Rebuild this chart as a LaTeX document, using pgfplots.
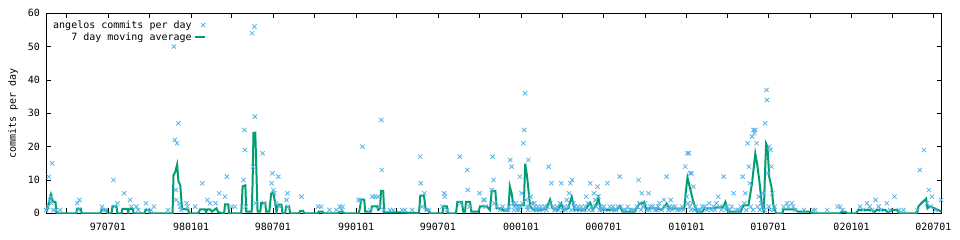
\documentclass[border=0pt]{standalone}
\usepackage{fontspec}
\setmainfont{DejaVu Sans Mono}
\usepackage{pgfplots}
\pgfplotsset{compat=1.18}
\definecolor{cblue}{HTML}{56B4E9}
\definecolor{cgreen}{HTML}{009E73}
\begin{document}
\begin{tikzpicture}
\begin{axis}[
  at={(46pt,26.7pt)}, anchor=south west,
  scale only axis, width=895.5pt, height=200pt,
  xmin=-137, xmax=1844, ymin=0, ymax=60,
  xtick={0,184,365,549,730,914,1096,1280,1461,1645,1826},
  xticklabels={970701,980101,980701,990101,990701,000101,000701,010101,010701,020101,020701},
  minor xtick={-91,92,274,457,639,822,1005,1188,1370,1553,1735},
  ytick={0,10,20,30,40,50,60},
  tick align=inside,
  major tick length=5pt, minor tick length=5pt,
  every tick/.style={black, line width=0.8pt},
  axis line style={line width=0.9pt},
  font=\fontsize{10pt}{12pt}\selectfont,
  /pgf/number format/assume math mode=true,
  yticklabel style={xshift=-2.5pt},
  xticklabel style={yshift=-6.5pt},
  ylabel={commits per day},
  every axis y label/.style={at={(axis description cs:0,0.5)}, xshift=-33pt, rotate=90, anchor=center},
  legend style={at={(0,1)}, anchor=north west, draw=none, fill=none, font=\fontsize{10pt}{12pt}\selectfont, row sep=-1pt, xshift=2pt, yshift=-3pt},
  legend plot pos=right, legend cell align=right,
]
\addplot[only marks, mark=x, mark size=3pt, cblue, line width=0.8pt] coordinates {
(-137,1) (-133,2) (-131,11) (-128,4) (-126,5) (-125,3) (-123,15) (-121,1) (-115,1) (-106,1)
(-68,3) (-65,1) (-63,4) (-13,2) (-10,1) (-5,1) (12,10) (15,2) (21,3) (36,6) (49,4) (52,2)
(63,2) (67,1) (84,3) (88,1) (95,1) (102,2) (133,1) (146,50) (148,22) (150,7) (151,4) (153,21)
(156,27) (158,3) (160,2) (162,1) (174,3) (176,2) (193,2) (209,9) (220,4) (226,3) (238,3)
(246,6) (259,5) (263,11) (274,2) (281,2) (300,10) (302,25) (303,19) (305,2) (319,54) (321,14)
(324,56) (325,29) (327,3) (342,18) (346,3) (362,9) (364,12) (366,7) (368,6) (372,3) (377,11)
(380,2) (395,4) (397,6) (398,2) (428,5) (465,2) (472,2) (490,1) (505,1) (513,2) (517,1)
(519,2) (554,4) (558,4) (563,20) (580,1) (585,5) (591,5) (597,5) (600,2) (605,28) (606,13)
(610,1) (624,1) (631,1) (651,1) (657,1) (673,1) (691,17) (692,9) (695,2) (700,6) (705,1)
(710,1) (740,2) (744,6) (745,5) (750,1) (778,17) (780,3) (795,13) (796,7) (800,2) (822,6)
(831,4) (833,4) (835,2) (849,7) (851,17) (853,10) (855,3) (860,2) (867,1) (873,2) (880,1)
(890,16) (893,14) (896,3) (900,2) (905,1) (911,11) (915,6) (919,21) (921,25) (923,36) (925,4)
(927,2) (930,16) (935,5) (938,3) (945,2) (950,1) (975,14) (978,3) (981,9) (985,2) (990,1)
(1003,9) (1010,2) (1015,4) (1020,6) (1023,9) (1027,10) (1030,3) (1040,2) (1050,1) (1058,5)
(1062,3) (1067,9) (1075,6) (1078,4) (1083,8) (1085,5) (1090,2) (1105,9) (1110,2) (1120,1)
(1128,2) (1132,11) (1140,1) (1150,2) (1160,1) (1174,10) (1176,3) (1181,6) (1188,3) (1196,6)
(1200,2) (1210,1) (1220,3) (1230,4) (1236,11) (1245,4) (1250,2) (1260,1) (1277,14) (1280,5)
(1282,18) (1283,3) (1285,18) (1288,12) (1291,12) (1295,8) (1300,2) (1305,1) (1320,2) (1330,3)
(1340,2) (1350,5) (1362,11) (1370,2) (1384,6) (1390,1) (1404,11) (1408,3) (1410,6) (1415,21)
(1418,14) (1420,9) (1425,23) (1428,25) (1430,24) (1432,25) (1435,21) (1440,5) (1445,3) (1450,6)
(1454,27) (1457,37) (1458,34) (1460,12) (1463,20) (1466,19) (1468,14) (1470,6) (1475,2)
(1495,2) (1502,3) (1505,2) (1513,3) (1516,2) (1520,1) (1540,1) (1560,1) (1565,1) (1591,1)
(1614,2) (1620,2) (1625,1) (1664,2) (1670,1) (1679,3) (1685,2) (1690,1) (1698,4) (1705,2)
(1710,1) (1723,3) (1730,1) (1740,5) (1750,1) (1760,1) (1790,1) (1796,13) (1805,19) (1812,3)
(1816,7) (1820,2) (1823,5) (1830,1) (1843,4)
(884,1) (887,2) (898,1) (902,3) (907,2) (909,1) (913,2) (917,3) (929,1) (932,2) (940,1) (943,3)
(947,1) (952,2) (955,1) (958,2) (962,1) (966,2) (970,1) (973,2) (988,1) (993,2) (997,1) (1000,3)
(1006,1) (1012,1) (1018,2) (1025,1) (1033,2) (1036,1) (1044,1) (1047,2) (1053,1) (1056,2)
(1064,1) (1070,2) (1072,1) (1080,2) (1088,1) (1093,1) (1097,2) (1100,1) (1114,1) (1117,2)
(1124,1) (1135,2) (1145,1) (1155,1) (1165,1) (1170,2) (1179,1) (1184,2) (1192,1) (1198,1)
(1205,2) (1214,1) (1217,2) (1225,1) (1233,2) (1240,1) (1243,2) (1248,1) (1255,2) (1265,1)
(1270,2) (1273,1) (1287,2) (1290,1) (1293,3) (1297,1) (1310,1) (1315,2) (1325,1) (1335,1)
(1343,1) (1346,3) (1353,2) (1357,1) (1365,2) (1367,1) (1375,1) (1380,2) (1395,1) (1400,2)
(1412,1) (1422,2) (1427,1) (1437,2) (1442,1) (1448,2) (1452,1) (1462,2) (1465,1) (1472,1)
};
\addlegendentry{angelos commits per day}
\addplot[cgreen, line width=2pt, legend image code/.code={\draw[cgreen, line width=2pt] (0pt,0pt) -- (10pt,0pt);}] coordinates {
(-137,0.5) (-134,1) (-132,2.4) (-129,4) (-126,5.6) (-123,4) (-120,3.4) (-116,3.4) (-114,0)
(-70,0) (-68,1.4) (-60,1.4) (-58,0) (-16,0) (-14,1) (-3,1) (-1,0) (8,0) (10,2.1) (19,2.1) (21,0)
(30,0) (32,1.3) (43,1.3) (45,0) (46,1.3) (55,1.3) (57,0) (81,0) (83,1) (91,1) (93,0)
(143,0) (145,11.4) (149,12.4) (153,14.6) (156,9.6) (160,8.4) (164,1.4) (177,1.1) (180,0)
(200,0) (204,1.2) (215,1.2) (217,0.3) (220,1.2) (226,1.2) (230,0.5) (240,1.5) (244,0.3)
(257,0) (259,2.7) (266,2.7) (268,0) (295,0) (298,8.1) (304,8.4) (306,0.5) (318,0.5) (320,9)
(322,24.1) (326,24.2) (329,9.9) (331,0.5) (337,0.5) (339,3.1) (348,3.1) (350,0.5) (357,0.5)
(361,5.9) (366,6.2) (370,3) (373,0.3) (376,2.6) (384,2.6) (386,0) (392,0) (394,1.9) (401,1.9)
(403,0) (423,0) (425,0.7) (432,0.7) (434,0) (465,0) (466,0.5) (475,0.5) (476,0) (510,0)
(512,0.5) (520,0.5) (522,0) (555,0) (558,2) (560,4.1) (567,4.1) (569,0.5) (582,0.5) (584,2.1)
(595,2.1) (598,1) (602,1.5) (604,6.7) (609,6.7) (611,0.3) (640,0.3) (688,0) (691,5.3) (699,5.3)
(703,1) (710,1) (712,0) (740,0) (742,2.1) (750,2.1) (752,0) (770,0) (773,3.4) (783,3.4)
(786,0.5) (790,0.5) (792,3.4) (801,3.4) (804,0.5) (820,0.5) (823,2.1) (838,2.1) (845,1)
(849,6.7) (857,6.7) (860,1.5) (870,1.5) (875,0.8) (886,0.8) (889,8.1) (893,6) (897,2.4)
(920,2.4) (923,14.9) (927,11.3) (934,2.1) (941,1) (960,1) (970,1.5) (978,4.1) (983,1.5)
(995,1) (1003,2.9) (1008,1) (1018,1.5) (1026,4.9) (1032,1) (1055,1) (1067,3.1) (1073,1)
(1080,2.5) (1085,4.6) (1090,1) (1125,1) (1133,2.1) (1138,0.5) (1165,0.5) (1176,3) (1183,3)
(1186,3.4) (1190,1.5) (1215,1.5) (1225,1) (1236,2.9) (1242,1.4) (1275,1.4) (1278,6) (1282,10.7)
(1288,7.4) (1295,3.4) (1303,0.5) (1315,0.5) (1320,1.5) (1340,1.5) (1345,1.8) (1360,1.8)
(1366,3.4) (1372,0.5) (1400,0.5) (1406,2.4) (1417,2.4) (1420,5) (1425,9.2) (1432,17.9)
(1436,14.9) (1441,9.8) (1447,2.1) (1451,0.5) (1453,10) (1456,20.9) (1459,20) (1463,10.8)
(1468,7.8) (1472,2.4) (1478,0) (1492,0) (1494,1.2) (1520,1.2) (1525,0.5) (1550,0.5) (1560,0)
(1620,0) (1622,0.4) (1632,0.4) (1635,0) (1655,0) (1660,1) (1690,1) (1695,0.3) (1700,1)
(1720,1) (1725,0.3) (1735,1) (1745,1) (1750,0) (1790,0) (1793,2.1) (1800,3.1) (1810,4.4)
(1813,1.5) (1818,2.1) (1830,1.4) (1844,0.5)
};
\addlegendentry{7 day moving average}
\end{axis}
\pgfresetboundingbox
\path (0,0) rectangle (960pt,240pt);
\end{tikzpicture}
\end{document}
